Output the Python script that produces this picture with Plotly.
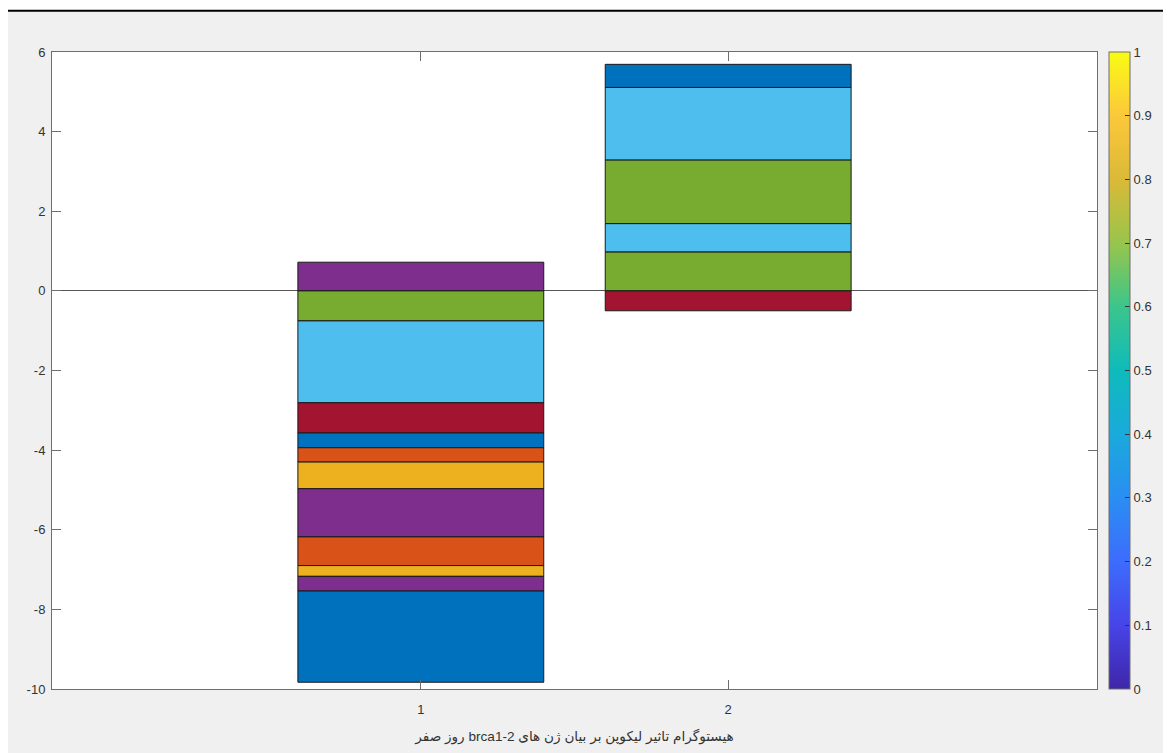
import plotly.graph_objects as go

# ---- data ----
categories = [1, 2]
bar1_values = [0.72, -0.754, -2.056, -0.76, -0.37, -0.36, -0.67, -1.21, -0.72, -0.27, -0.37, -2.29]
bar2_values = [0.98, 0.71, 1.60, 1.82, 0.58, -0.50]
y_ticks = [-10, -8, -6, -4, -2, 0, 2, 4, 6]
y_tick_labels = ["-10", "-8", "-6", "-4", "-2", "0", "2", "4", "6"]
cb_ticks = [0, 0.1, 0.2, 0.3, 0.4, 0.5, 0.6, 0.7, 0.8, 0.9, 1]
cb_tick_labels = ["0", "0.1", "0.2", "0.3", "0.4", "0.5", "0.6", "0.7", "0.8", "0.9", "1"]
x_title = "هیستوگرام تاثیر لیکوپن بر بیان ژن های brca1-2 روز صفر"

# ---- styles ----
BLUE, ORANGE, YELLOW, PURPLE = "#0072BD", "#D95319", "#EDB120", "#7E2F8E"
GREEN, LBLUE, RED = "#77AC30", "#4DBEEE", "#A2142F"
bar1_colors = [PURPLE, GREEN, LBLUE, RED, BLUE, ORANGE, YELLOW, PURPLE, ORANGE, YELLOW, PURPLE, BLUE]
bar2_colors = [GREEN, LBLUE, GREEN, LBLUE, BLUE, RED]
parula = [
    [0.0, "#3e26a8"], [0.1, "#4744e8"], [0.2, "#3d6cfd"], [0.3, "#2a8ef2"],
    [0.4, "#1aaadb"], [0.5, "#0ebbbb"], [0.6, "#3cc58c"], [0.7, "#98c54c"],
    [0.8, "#dbb937"], [0.9, "#fcc83a"], [1.0, "#f9fb15"],
]

# page body has an 8px margin; target pixel p -> figure pixel p - OFF
OFF = 8
W, H = 1171 - OFF, 753 - OFF
L, T = 52 - OFF, 52 - OFF
R = W - (1097 - OFF)
B = H - (691 - OFF)
pw, ph = W - L - R, H - T - B

def px_x(p):
    return (p - OFF - L) / pw

def px_y(p):
    return (H - B - (p - OFF)) / ph

fig = go.Figure()
for cat, vals, cols in ((categories[0], bar1_values, bar1_colors),
                        (categories[1], bar2_values, bar2_colors)):
    for v, c in zip(vals, cols):
        fig.add_trace(go.Bar(
            x=[cat], y=[v], width=0.8,
            marker=dict(color=c, line=dict(color="#1a1a1a", width=1)),
            showlegend=False, hoverinfo="skip",
        ))

# colorbar carrier
fig.add_trace(go.Scatter(
    x=[None], y=[None], mode="markers", showlegend=False, hoverinfo="skip",
    marker=dict(
        color=[0], cmin=0, cmax=1, colorscale=parula, showscale=True,
        colorbar=dict(
            x=px_x(1109), xanchor="left", xpad=0, y=0.5, yanchor="middle", ypad=0,
            len=1, lenmode="fraction", thickness=21, thicknessmode="pixels",
            outlinewidth=1, outlinecolor="#6e6e6e",
            ticks="inside", ticklen=5, tickcolor="#333333",
            tickvals=cb_ticks, ticktext=cb_tick_labels,
            tickfont=dict(family="Liberation Sans, Arial", size=13, color="#333333"),
        ),
    ),
))

axis_common = dict(
    showline=True, linecolor="#6e6e6e", linewidth=1, mirror="ticks",
    ticks="inside", ticklen=9, tickcolor="#6e6e6e", tickwidth=1,
    showgrid=False,
    tickfont=dict(family="Liberation Sans, Arial", size=13, color="#333333"),
)

fig.update_layout(
    width=W, height=H,
    margin=dict(l=L, r=R, t=T, b=B, pad=0),
    paper_bgcolor="#f0f0f0", plot_bgcolor="white",
    barmode="relative",
    xaxis=dict(
        range=[-0.2, 3.2], tickvals=categories, ticktext=[str(c) for c in categories],
        zeroline=False, ticklabelstandoff=8,
        title=dict(text="\u202b" + x_title + "\u202c", standoff=15,
                   font=dict(family="Liberation Sans, DejaVu Sans", size=13.6, color="#333333")),
        **axis_common,
    ),
    yaxis=dict(
        range=[-10, 6], tickvals=y_ticks, ticktext=y_tick_labels,
        zeroline=True, zerolinecolor="#555555", zerolinewidth=1,
        ticklabelstandoff=3,
        **axis_common,
    ),
    shapes=[
        dict(type="rect", xref="paper", yref="paper", x0=px_x(0), x1=px_x(1171), y0=px_y(10), y1=px_y(0),
             fillcolor="white", line=dict(width=0), layer="below"),
        dict(type="line", xref="paper", yref="paper", x0=px_x(8), x1=px_x(1171), y0=px_y(10.5), y1=px_y(10.5),
             line=dict(color="black", width=2)),
    ],
)

fig.write_html("out.html", config={"displayModeBar": False})
